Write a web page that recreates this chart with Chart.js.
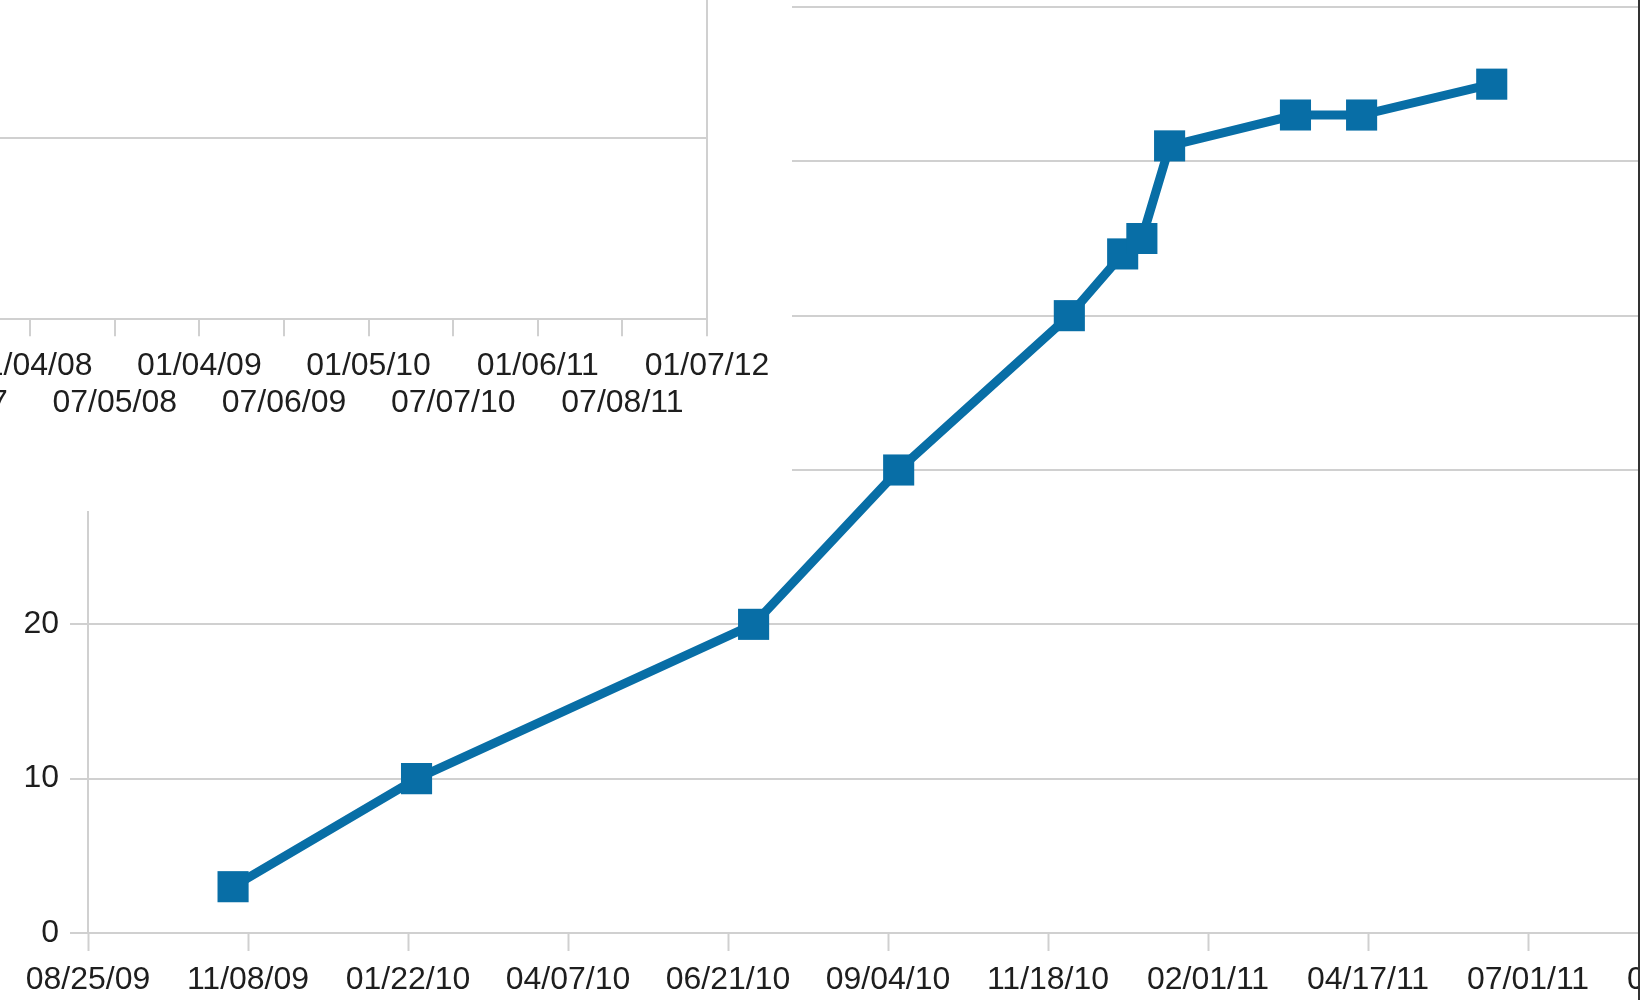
<!DOCTYPE html>
<html>
<head>
<meta charset="utf-8">
<script src="https://cdn.jsdelivr.net/npm/chart.js@4/dist/chart.umd.min.js"></script>
<style>
  html, body { margin: 0; padding: 0; background: #fff; }
  #stage { position: relative; width: 1640px; height: 1000px; overflow: hidden; background: #fff; }
  #mainCanvas { position: absolute; left: 0; top: 0; }
  #insetBox { position: absolute; left: 0; top: 0; width: 792px; height: 511px; overflow: hidden; background: #fff; }
  #insetCanvas { position: absolute; left: -300px; top: -100px; }
  #edge { position: absolute; left: 1638px; top: 0; width: 2px; height: 1000px; background: #333; }
</style>
</head>
<body>
<div id="stage">
  <canvas id="mainCanvas" width="1760" height="1000"></canvas>
  <div id="insetBox"><canvas id="insetCanvas" width="1100" height="530"></canvas></div>
  <div id="edge"></div>
</div>
<script>
// Cumulative count by date
const pointDates = ['2009-11-01', '2010-01-26', '2010-07-03', '2010-09-09', '2010-11-28',
                    '2010-12-23', '2011-01-01', '2011-01-14', '2011-03-14', '2011-04-14', '2011-06-14'];
const pointValues = [3, 10, 20, 30, 40, 44, 45, 51, 53, 53, 55];

// Main time axis: first tick date and tick spacing in days
const mainAxisStart = '2009-08-25';
const mainAxisStepDays = 75;
const mainAxisSteps = 10;
const yTicksMax = 60;
const yTicksStep = 10;

// Background panel time axis (ticks every 183 days, alternating label rows)
const insetAxisStart = '2008-01-04';
const insetAxisStepDays = 183;
const insetAxisStepsBefore = 2;
const insetAxisStepsAfter = 8;

const DAY = 86400000;
function utc(s) { const [y, m, d] = s.split('-').map(Number); return Date.UTC(y, m - 1, d); }
function dayOffset(dateStr, baseStr) { return Math.round((utc(dateStr) - utc(baseStr)) / DAY); }
function fmt(baseStr, off) {
  const d = new Date(utc(baseStr) + Math.round(off) * DAY);
  const p = n => String(n).padStart(2, '0');
  return p(d.getUTCMonth() + 1) + '/' + p(d.getUTCDate()) + '/' + p(d.getUTCFullYear() % 100);
}

const GRID = '#d0d0d0';
const TEXT = '#1e1e1e';
const FONT = { family: "'Liberation Sans', Arial, sans-serif", size: 32 };
const BLUE = '#086ea6';

function zeroPad(scale) {
  scale.paddingTop = 0; scale.paddingBottom = 0; scale.paddingLeft = 0; scale.paddingRight = 0;
}

const points = pointDates.map((d, i) => ({ x: dayOffset(d, mainAxisStart), y: pointValues[i] }));

new Chart(document.getElementById('mainCanvas'), {
  type: 'line',
  data: {
    datasets: [{
      data: points,
      borderColor: BLUE,
      backgroundColor: BLUE,
      borderWidth: 9,
      tension: 0,
      pointStyle: 'rect',
      pointRadius: 22,
      pointHoverRadius: 22,
      pointBackgroundColor: BLUE,
      pointBorderColor: BLUE,
      pointBorderWidth: 0
    }]
  },
  options: {
    responsive: false,
    animation: false,
    devicePixelRatio: 1,
    layout: { autoPadding: false, padding: { left: 0, right: 72, top: 7, bottom: 0 } },
    plugins: { legend: { display: false }, tooltip: { enabled: false } },
    scales: {
      x: {
        type: 'linear',
        min: 0,
        max: mainAxisStepDays * mainAxisSteps,
        afterFit: s => { s.height = 67; zeroPad(s); },
        grid: { drawOnChartArea: false, drawTicks: true, tickLength: 18, tickColor: GRID, tickWidth: 2 },
        border: { display: true, color: GRID, width: 2 },
        ticks: {
          stepSize: mainAxisStepDays,
          autoSkip: false,
          maxRotation: 0,
          minRotation: 0,
          padding: 10,
          color: TEXT,
          font: FONT,
          callback: v => fmt(mainAxisStart, v)
        }
      },
      y: {
        min: 0,
        max: yTicksMax,
        afterFit: s => { s.width = 88; zeroPad(s); },
        grid: { color: GRID, lineWidth: 2, tickLength: 18, tickColor: GRID, tickWidth: 2 },
        border: { display: true, color: GRID, width: 2 },
        ticks: { stepSize: yTicksStep, padding: 11, color: TEXT, font: FONT }
      }
    }
  }
});

// Background panel: empty time axis with two label rows
const insetMin = -insetAxisStepDays * insetAxisStepsBefore;
const insetMax = insetAxisStepDays * insetAxisStepsAfter;

new Chart(document.getElementById('insetCanvas'), {
  type: 'line',
  data: { datasets: [{ data: [] }] },
  options: {
    responsive: false,
    animation: false,
    devicePixelRatio: 1,
    layout: { autoPadding: false, padding: { left: 61, right: 93, top: 56.7, bottom: 0 } },
    plugins: { legend: { display: false }, tooltip: { enabled: false } },
    scales: {
      x: {
        type: 'linear',
        min: insetMin,
        max: insetMax,
        afterFit: s => { s.height = 110.7; zeroPad(s); },
        grid: {
          drawOnChartArea: true,
          color: c => (c.tick && c.tick.value === insetMax) ? GRID : 'rgba(0,0,0,0)',
          lineWidth: 2,
          tickLength: 17,
          tickColor: GRID,
          tickWidth: 2
        },
        border: { display: true, color: GRID, width: 2 },
        ticks: {
          stepSize: insetAxisStepDays,
          autoSkip: false,
          maxRotation: 0,
          minRotation: 0,
          padding: 11.6,
          color: TEXT,
          font: Object.assign({}, FONT, { lineHeight: 1.15 }),
          callback: v => {
            const k = Math.round(v / insetAxisStepDays);
            const label = fmt(insetAxisStart, v);
            return (k % 2 === 0) ? [label, ''] : ['', label];
          }
        }
      },
      y: {
        min: 0,
        max: 2,
        afterFit: s => { s.width = 100; zeroPad(s); },
        grid: { color: GRID, lineWidth: 2, drawTicks: false },
        border: { display: false },
        ticks: { stepSize: 1, display: false }
      }
    }
  }
});
</script>
</body>
</html>
